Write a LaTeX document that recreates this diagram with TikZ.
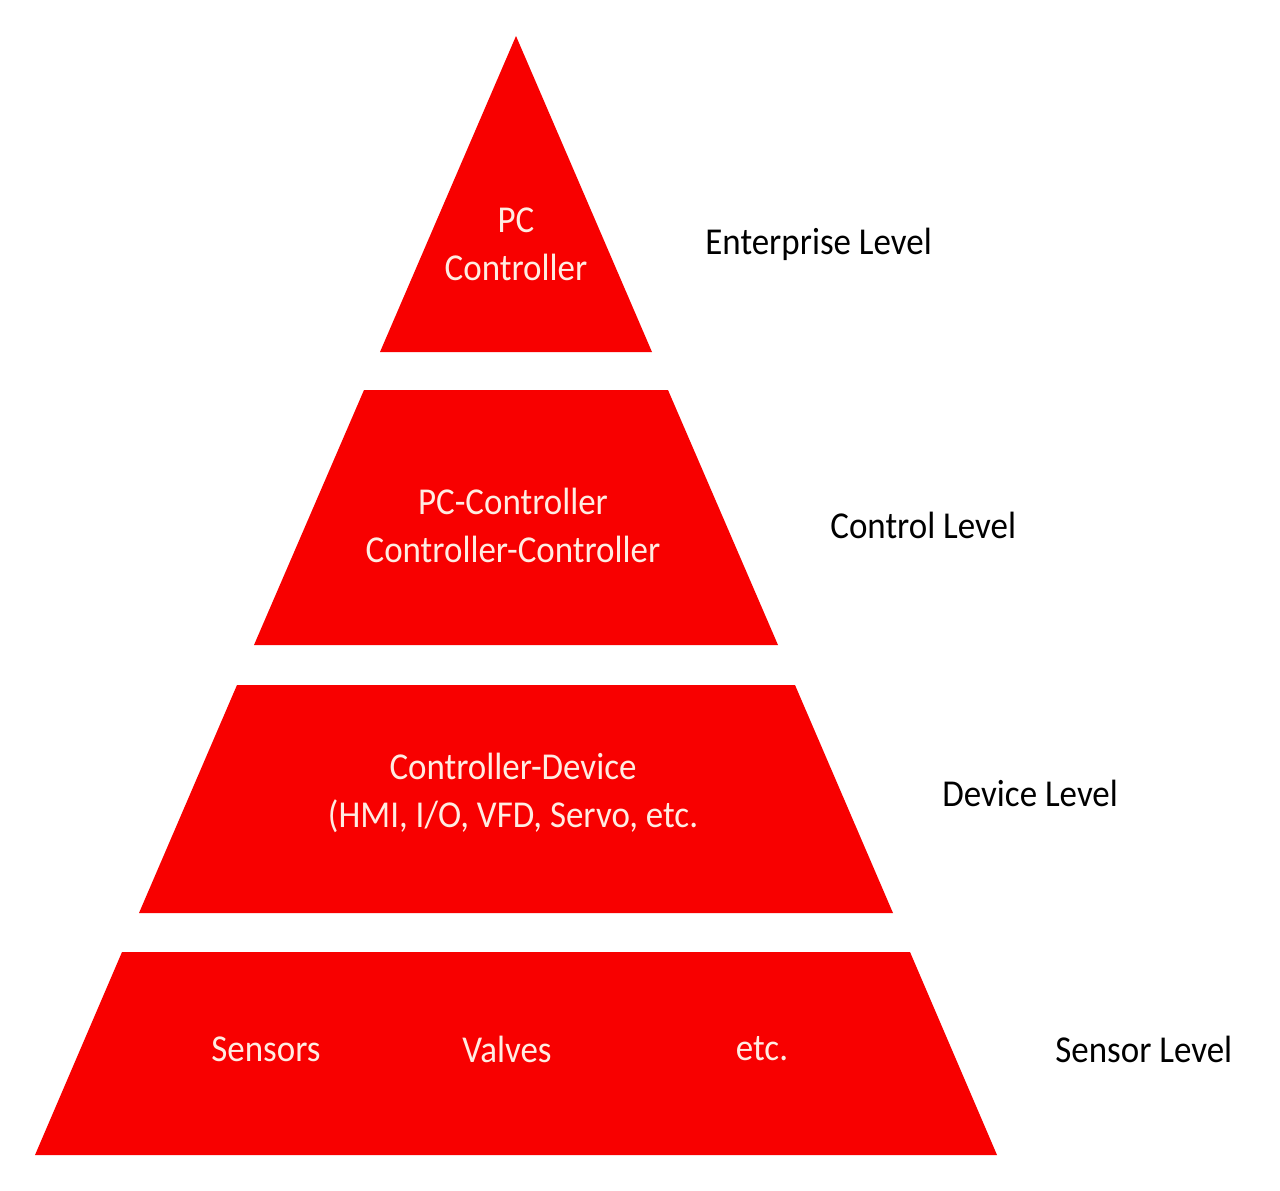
\documentclass[tikz,border=0pt]{standalone}
\usepackage{fontspec}
\setmainfont{Carlito}[FakeStretch=0.92]
\definecolor{pyrred}{RGB}{248,0,0}
\definecolor{pyrtext}{RGB}{255,236,226}
\begin{document}
\begin{tikzpicture}[x=0.5pt,y=-0.5pt,
  layer/.style={fill=pyrred,draw=none},
  intext/.style={text=pyrtext,font=\fontsize{19}{24}\selectfont,align=center,inner sep=0pt},
  lvltext/.style={text=black,font=\fontsize{19}{24}\selectfont,anchor=west,inner sep=0pt}]
\useasboundingbox[fill=white] (0,0) rectangle (1280,1190);
% layers
\fill[layer] (516,36) -- (652,352) -- (380,352) -- cycle;
\fill[layer] (364,390) -- (668,390) -- (778,645) -- (254,645) -- cycle;
\fill[layer] (237,685) -- (795,685) -- (893,913) -- (139,913) -- cycle;
\fill[layer] (122,952) -- (910,952) -- (997,1155) -- (35,1155) -- cycle;
% inner texts
\node[intext] (t1) at (516,244) {PC\\Controller};
\node[intext] (t2) at (513,525) {PC-Controller\\Controller-Controller};
\node[intext] (t3) at (513,793) {Controller-Device\\(HMI, I/O, VFD, Servo, etc.};
\node[intext] (s1) at (266,1049) {Sensors};
\node[intext] (s2) at (507,1049) {Valves};
\node[intext] (s3) at (762,1049) {etc.};
% level labels
\node[lvltext] (l1) at (705,244) {Enterprise Level};
\node[lvltext] (l2) at (830,525) {Control Level};
\node[lvltext] (l3) at (942,793) {Device Level};
\node[lvltext] (l4) at (1055,1049) {Sensor Level};
\end{tikzpicture}
\end{document}
